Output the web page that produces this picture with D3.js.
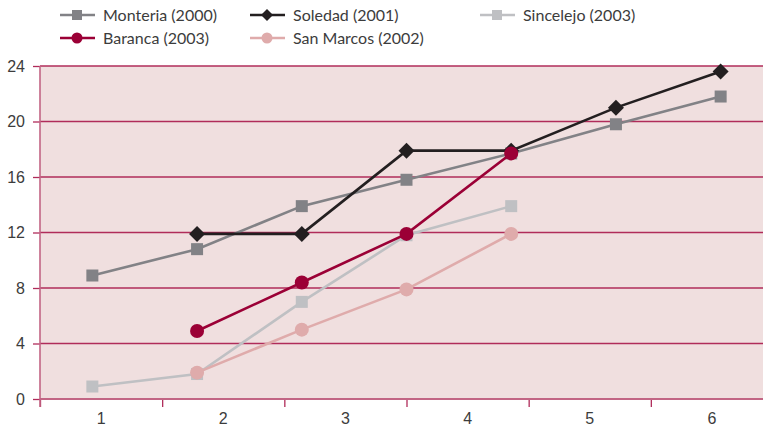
<!DOCTYPE html>
<html>
<head>
<meta charset="utf-8">
<script src="https://cdn.jsdelivr.net/npm/d3@7"></script>
<style>
  body { margin: 0; background: #fff; }
  svg { font-family: Lato, "Open Sans", sans-serif; }
</style>
</head>
<body>
<div id="chart"></div>
<script>
const width = 763;
const height = 431;

// data
const axisCategories = ["1", "2", "3", "4", "5", "6"];
const yTicks = [0, 4, 8, 12, 16, 20, 24];
const pointSlots = [0, 1, 2, 3, 4, 5, 6];

const monteria = [8.9, 10.8, 13.9, 15.8, 17.7, 19.8, 21.8];
const soledad = [null, 11.9, 11.9, 17.9, 17.9, 21.0, 23.6];
const sincelejo = [0.9, 1.8, 7.0, 11.8, 13.9, null, null];
const baranca = [null, 4.9, 8.4, 11.9, 17.7, null, null];
const sanMarcos = [null, 1.9, 5.0, 7.9, 11.9, null, null];

const series = [
	{ name: "Monteria (2000)", values: monteria, color: "#828286", shape: "square" },
	{ name: "Soledad (2001)", values: soledad, color: "#231f20", shape: "diamond" },
	{ name: "Sincelejo (2003)", values: sincelejo, color: "#bfc0c3", shape: "square" },
	{ name: "Baranca (2003)", values: baranca, color: "#9b0036", shape: "circle" },
	{ name: "San Marcos (2002)", values: sanMarcos, color: "#dfabab", shape: "circle" }
];

const legendOrder = ["Monteria (2000)", "Soledad (2001)", "Sincelejo (2003)", "Baranca (2003)", "San Marcos (2002)"];

const plot = { left: 40, right: 773, top: 66, bottom: 399 };
const gridColor = "#b02c5a";
const axisColor = "#c26584";

var svg = d3.select("#chart")
	.append("svg")
	.attr("width", width)
	.attr("height", height);

var y = d3.scaleLinear().domain([0, 24]).range([plot.bottom, plot.top]);
var xPoints = d3.scaleBand().domain(pointSlots).range([plot.left, plot.right]);
var xCats = d3.scaleBand().domain(axisCategories).range([plot.left, plot.right]);
var xEdges = d3.scaleLinear().domain([0, axisCategories.length]).range([plot.left, plot.right]);

function px(i) {
	return xPoints(i) + xPoints.bandwidth() / 2;
}

// background
svg.append("rect")
	.attr("x", plot.left)
	.attr("y", plot.top)
	.attr("width", plot.right - plot.left)
	.attr("height", plot.bottom - plot.top)
	.attr("fill", "#f0dfdf");

// y axis with gridlines
var yAxis = svg.append("g")
	.attr("transform", `translate(${plot.left},0)`)
	.call(d3.axisLeft(y).tickValues(yTicks).tickSize(7).tickPadding(8));
yAxis.select(".domain").remove();
yAxis.selectAll(".tick line").attr("stroke", gridColor).attr("stroke-width", 1.3);
yAxis.selectAll(".tick text")
	.attr("fill", "#3c3c3c")
	.style("font-size", "16px");

svg.append("g")
	.selectAll("line")
	.data(yTicks.filter((d) => d > 0))
	.enter()
	.append("line")
	.attr("x1", plot.left)
	.attr("x2", plot.right)
	.attr("y1", (d) => y(d))
	.attr("y2", (d) => y(d))
	.attr("stroke", gridColor)
	.attr("stroke-width", 1.3);

// x axis: tick marks between categories, labels centred
var xTickAxis = svg.append("g")
	.attr("transform", `translate(0,${plot.bottom})`)
	.call(d3.axisBottom(xEdges).tickValues(d3.range(0, axisCategories.length + 1)).tickSize(8).tickFormat(""));
xTickAxis.select(".domain").remove();
xTickAxis.selectAll(".tick line").attr("stroke", gridColor).attr("stroke-width", 1.3);

var xLabelAxis = svg.append("g")
	.attr("transform", `translate(0,${plot.bottom})`)
	.call(d3.axisBottom(xCats).tickSize(0).tickPadding(14));
xLabelAxis.select(".domain").remove();
xLabelAxis.selectAll(".tick text")
	.attr("fill", "#3c3c3c")
	.style("font-size", "16px");

// axis lines
svg.append("line")
	.attr("x1", plot.left).attr("x2", plot.right)
	.attr("y1", plot.bottom).attr("y2", plot.bottom)
	.attr("stroke", axisColor).attr("stroke-width", 2);
svg.append("line")
	.attr("x1", plot.left).attr("x2", plot.left)
	.attr("y1", plot.top).attr("y2", plot.bottom + 8)
	.attr("stroke", axisColor).attr("stroke-width", 1.6);

// series
var line = d3.line()
	.defined((d) => d != null)
	.x((d, i) => px(i))
	.y((d) => y(d));

function drawMarker(g, shape, color, cx, cy) {
	if (shape === "square") {
		g.append("rect")
			.attr("x", cx - 6).attr("y", cy - 6)
			.attr("width", 12).attr("height", 12)
			.attr("fill", color);
	} else if (shape === "diamond") {
		g.append("path")
			.attr("d", `M${cx},${cy - 8}L${cx + 8},${cy}L${cx},${cy + 8}L${cx - 8},${cy}Z`)
			.attr("fill", color);
	} else {
		g.append("circle")
			.attr("cx", cx).attr("cy", cy).attr("r", 7)
			.attr("fill", color);
	}
}

series.forEach((s) => {
	var g = svg.append("g").attr("class", "series");
	g.append("path")
		.datum(s.values)
		.attr("d", line)
		.attr("fill", "none")
		.attr("stroke", s.color)
		.attr("stroke-width", 2.6);
	s.values.forEach((v, i) => {
		if (v != null) drawMarker(g, s.shape, s.color, px(i), y(v));
	});
});

// legend
var legendX = [60, 250, 480];
var legendY = [15, 38];
legendOrder.forEach((name, k) => {
	var s = series.find((d) => d.name === name);
	var col = k < 3 ? k : k - 3;
	var row = k < 3 ? 0 : 1;
	var lx = legendX[col];
	var ly = legendY[row];
	var g = svg.append("g").attr("class", "legend-item");
	g.append("line")
		.attr("x1", lx).attr("x2", lx + 35)
		.attr("y1", ly).attr("y2", ly)
		.attr("stroke", s.color)
		.attr("stroke-width", 2.4);
	if (s.shape === "square") {
		g.append("rect").attr("x", lx + 12).attr("y", ly - 5).attr("width", 10).attr("height", 10).attr("fill", s.color);
	} else if (s.shape === "diamond") {
		g.append("path").attr("d", `M${lx + 17},${ly - 6}L${lx + 23},${ly}L${lx + 17},${ly + 6}L${lx + 11},${ly}Z`).attr("fill", s.color);
	} else {
		g.append("circle").attr("cx", lx + 17).attr("cy", ly).attr("r", 5.5).attr("fill", s.color);
	}
	g.append("text")
		.attr("x", lx + 43)
		.attr("y", ly)
		.attr("dy", "0.35em")
		.attr("fill", "#3c3c3c")
		.style("font-size", "16px")
		.text(s.name);
});
</script>
</body>
</html>
